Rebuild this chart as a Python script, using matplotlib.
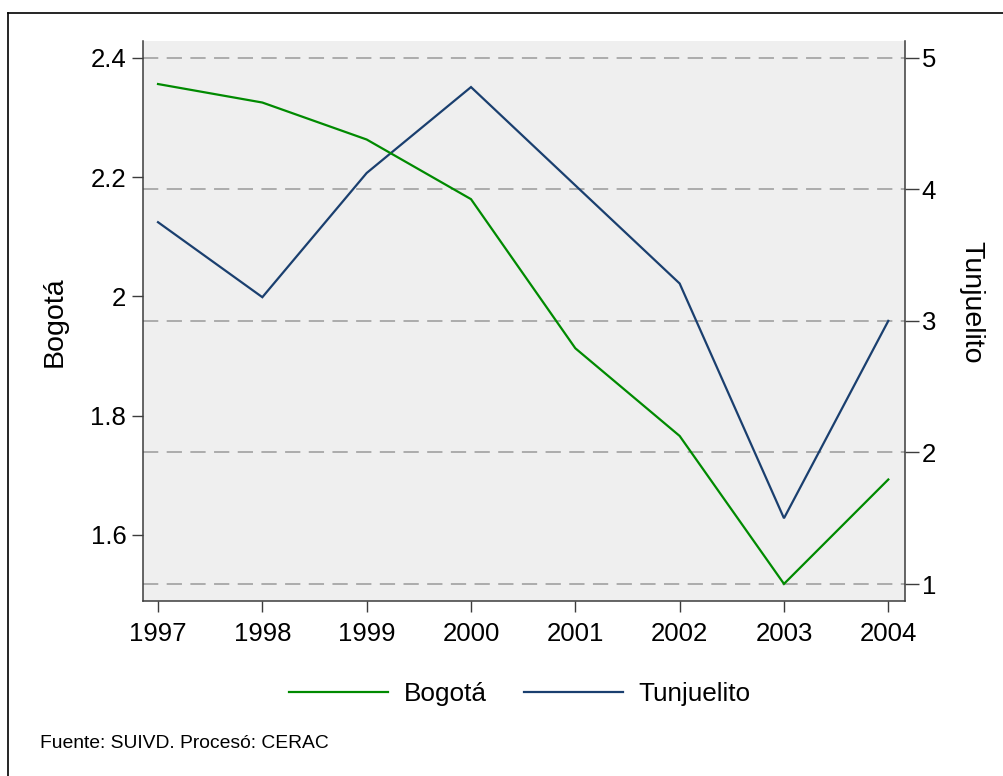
import matplotlib

matplotlib.use("Agg")
import matplotlib.pyplot as plt
from matplotlib.lines import Line2D

years = [1997, 1998, 1999, 2000, 2001, 2002, 2003, 2004]
bogota = [2.356, 2.325, 2.263, 2.163, 1.913, 1.766, 1.518, 1.693]
tunjuelito = [3.75, 3.18, 4.124, 4.777, 4.03, 3.284, 1.50, 3.00]

left_ticks = [1.6, 1.8, 2.0, 2.2, 2.4]
left_labels = ["1.6", "1.8", "2", "2.2", "2.4"]
right_ticks = [1, 2, 3, 4, 5]

GREEN = "#008a00"
NAVY = "#1a3f6f"
AXC = "#3c3c3c"

plt.rcParams["font.family"] = ["Liberation Sans", "DejaVu Sans"]

W, H = 1004, 776
fig = plt.figure(figsize=(W / 100, H / 100), dpi=100)
fig.patch.set_facecolor("white")

ax2 = fig.add_axes([143 / W, 1 - 601 / H, (905 - 143) / W, (601 - 40.5) / H])
ax = ax2.twinx()
# put the Bogota axes on top so its line sits over the grid
ax.set_zorder(ax2.get_zorder() + 1)
ax.patch.set_visible(False)
ax.xaxis.set_visible(True)
ax2.set_facecolor("#efefef")

# Bogota -> left axis, Tunjuelito -> right axis
ax.yaxis.tick_left()
ax.yaxis.set_label_position("left")
ax2.yaxis.tick_right()

l1, = ax.plot(years, bogota, color=GREEN, lw=1.6, solid_joinstyle="miter")
l2, = ax2.plot(years, tunjuelito, color=NAVY, lw=1.6, solid_joinstyle="miter")

ax.set_xlim(1996.856, 2004.16)
ax.set_ylim(1.4893, 2.429)
ax2.set_ylim(0.871, 5.131)

ax.set_yticks(left_ticks)
ax.set_yticklabels(left_labels)
ax2.set_yticks(right_ticks)
ax.set_xticks(years)
ax.set_xticklabels([str(y) for y in years])

ax2.yaxis.grid(True, color="#9a9a9a", lw=1.1, dashes=(10, 5.5))
ax2.xaxis.grid(False)

for a in (ax, ax2):
    for s in a.spines.values():
        s.set_visible(False)
    a.tick_params(colors=AXC, labelcolor="black", labelsize=18.5, width=1)
ax.spines["left"].set_visible(True)
ax.spines["bottom"].set_visible(True)
ax2.spines["right"].set_visible(True)
for s in (ax.spines["left"], ax.spines["bottom"], ax2.spines["right"]):
    s.set_color(AXC)
    s.set_linewidth(1.1)

ax.tick_params(axis="y", length=8, pad=4)
ax.tick_params(axis="x", length=8, pad=7)
ax2.tick_params(axis="y", length=10, pad=2)
ax2.tick_params(axis="x", bottom=False, labelbottom=False)

fig.text(55 / W, 1 - 322 / H, "Bogotá", rotation=90, fontsize=20.5,
         ha="center", va="center")
fig.text(971 / W, 1 - 302 / H, "Tunjuelito", rotation=-90, fontsize=20.5,
         ha="center", va="center")

fig.legend([l1, l2], ["Bogotá", "Tunjuelito"], loc="center",
           bbox_to_anchor=(520 / W, 1 - 694 / H), ncol=2, frameon=False,
           fontsize=18.8, handlelength=3.8, handletextpad=0.6,
           columnspacing=1.4)

fig.text(40 / W, 1 - 743 / H, "Fuente: SUIVD. Procesó: CERAC", fontsize=13.9,
         ha="left", va="center")

# outer frame (right and bottom edges fall outside the image)
fig.add_artist(Line2D([8 / W, 1.0], [1 - 13 / H, 1 - 13 / H],
                      transform=fig.transFigure, color="black", lw=1.2))
fig.add_artist(Line2D([8 / W, 8 / W], [1 - 13 / H, 0.0],
                      transform=fig.transFigure, color="black", lw=1.2))

fig.savefig("out.png", dpi=100)
